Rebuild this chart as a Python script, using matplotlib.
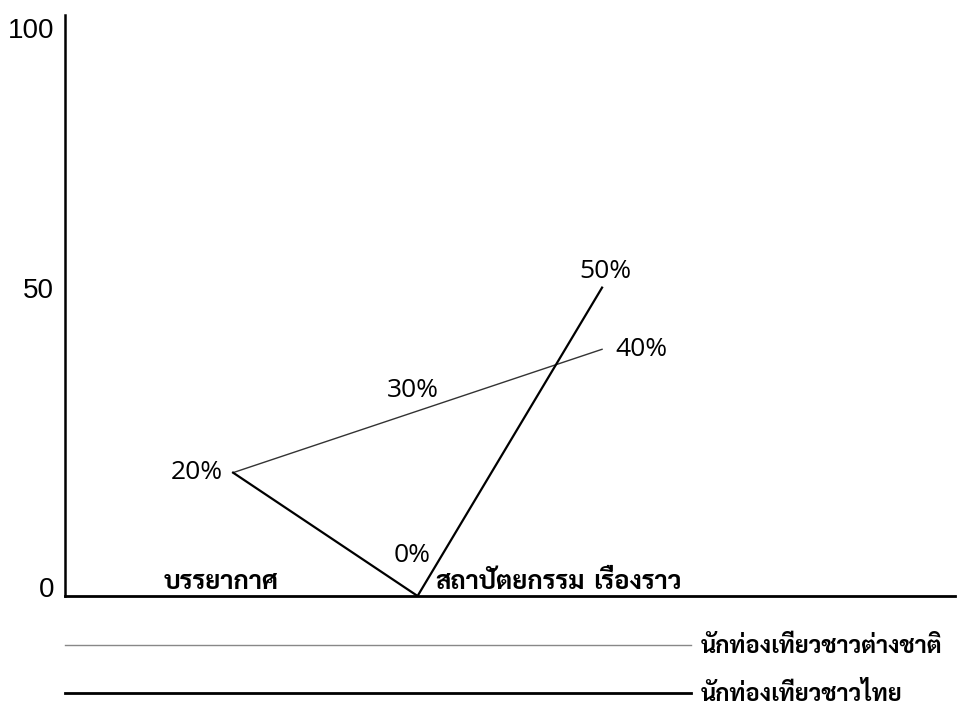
import matplotlib
matplotlib.use('Agg')
import matplotlib.pyplot as plt
from matplotlib.transforms import ScaledTranslation

categories = ['บรรยากาศ', 'สถาปัตยกรรม', 'เรื่องราว']
foreign = [20, 30, 40]   # นักท่องเที่ยวชาวต่างชาติ
thai = [20, 0, 50]       # นักท่องเที่ยวชาวไทย
series_names = ['นักท่องเที่ยวชาวต่างชาติ', 'นักท่องเที่ยวชาวไทย']
ytick_vals = [0, 50]
ytick_labels = ['0', '50', '100']

thai_font = 'Sarabun'
num_font = 'Liberation Sans'
pct_font = 'Open Sans'

fig = plt.figure(figsize=(9.61, 7.06), dpi=100)
ax = fig.add_axes([65/961, 110/706, 890/961, 581/706])

x = range(len(categories))
l1, = ax.plot(x, foreign, color='#333333', lw=1.0)
l2, = ax.plot(x, thai, color='black', lw=1.6)

# the drawn y axis stops a little below 100
ax.set_xlim(-0.911, 3.913)
ax.set_ylim(0, 94.2)
for s in ['top', 'right']:
    ax.spines[s].set_visible(False)
ax.spines['left'].set_linewidth(1.8)
ax.spines['bottom'].set_linewidth(2.0)
ax.set_xticks([])
ax.set_yticks(ytick_vals + [ax.get_ylim()[1]])
ax.set_yticklabels(ytick_labels, fontsize=20, family=num_font)
ax.tick_params(axis='y', length=0, pad=8)
# nudge the "0" up and the "100" down like in the original
for lab, dy in zip(ax.get_yticklabels(), [9, 0, -13]):
    lab.set_transform(lab.get_transform() + ScaledTranslation(0, dy / 100, fig.dpi_scale_trans))

# value labels
def pct(v, xi, yi, dx, dy, ha='center'):
    ax.annotate(f'{v}%', (xi, yi), xytext=(dx, dy), textcoords='offset pixels',
                ha=ha, va='center', fontsize=19, family=pct_font)

pct(foreign[0], 0, foreign[0], -10, 0, 'right')
pct(foreign[1], 1, foreign[1], -5, 20)
pct(foreign[2], 2, foreign[2], 13, 0, 'left')
pct(thai[1], 1, thai[1], -5, 41)
pct(thai[2], 2, thai[2], 3, 16)

# category labels sit just above the x axis
for i, (name, dx) in enumerate(zip(categories, [-12, 92, 35])):
    ax.annotate(name, (i, 0), xytext=(dx, 7), textcoords='offset pixels',
                ha='center', va='baseline', fontsize=18.5, family=thai_font,
                fontweight='bold')

leg = fig.legend([l1, l2], series_names, loc='center left',
                 bbox_to_anchor=(65/961, 1 - 671/706), frameon=False,
                 prop={'family': thai_font, 'weight': 'bold', 'size': 17},
                 handlelength=26.5, handletextpad=0.42, labelspacing=1.0,
                 borderaxespad=0, borderpad=0)
leg.get_lines()[0].set_color('#888888')
leg.get_lines()[0].set_linewidth(1.0)
leg.get_lines()[1].set_linewidth(2.0)

fig.savefig('out.png', dpi=100)
